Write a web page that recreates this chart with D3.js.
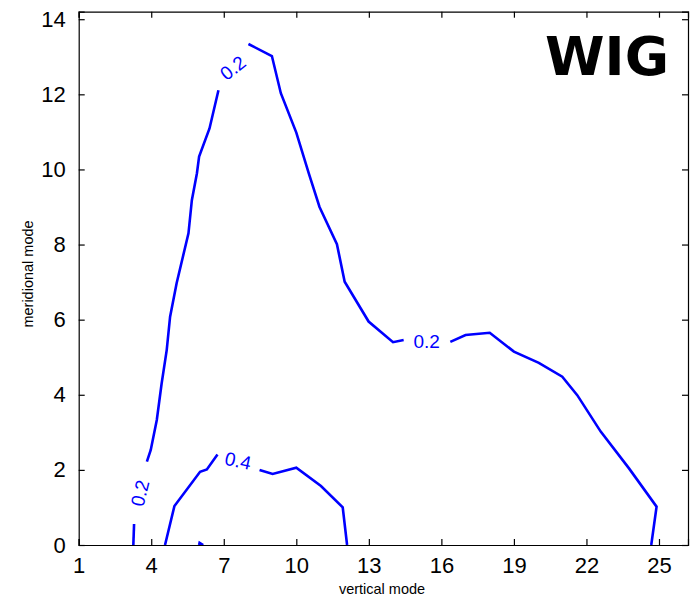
<!DOCTYPE html>
<html><head><meta charset="utf-8">
<script src="https://cdn.jsdelivr.net/npm/d3@7"></script>
<style>body{margin:0;background:#fff}svg{display:block}</style>
</head><body>
<script>
const xTicks = [1,4,7,10,13,16,19,22,25];
const yTicks = [0,2,4,6,8,10,12,14];
const xDomain = [1, 26.2];
const yDomain = [0, 14.2];

// contour level 0.2 (segments split at the labels)
const c02_a = [[3.26,0],[3.29,0.56]];
const c02_b = [[3.82,2.22],[3.98,2.53],[4.23,3.33],[4.43,4.3],[4.64,5.19],[4.78,6.08],[5.05,6.97],[5.54,8.3],[5.68,9.18],[5.89,9.9],[5.98,10.34],[6.41,11.09],[6.78,12.11]];
const c02_c = [[8.02,13.34],[8.99,13.02],[9.36,12.03],[10.0,10.98],[10.51,9.91],[10.96,9.0],[11.68,8.01],[12.0,7.01],[12.99,5.95],[14.0,5.40],[14.44,5.46]];
const c02_d = [[16.37,5.41],[17.0,5.59],[18.0,5.65],[19.0,5.15],[20.03,4.85],[21.0,4.48],[21.62,3.99],[22.59,3.02],[23.76,2.04],[24.9,1.02],[24.68,0]];
// contour level 0.4
const c04_a = [[4.57,0],[4.96,1.04],[6.02,1.95],[6.3,2.01],[6.74,2.41]];
const c04_b = [[8.48,2.0],[9.02,1.89],[10.0,2.06],[11.02,1.57],[11.92,1.0],[12.1,0]];
const c04_c = [[5.98,0],[6.0,0.06],[6.15,0]];

const contourLabels = [
  {text:"0.2", x:7.38, y:12.70, angle:-38},
  {text:"0.2", x:3.54, y:1.38, angle:-76},
  {text:"0.4", x:7.59, y:2.24, angle:12},
  {text:"0.2", x:15.39, y:5.41, angle:0}
];

const W = 694, H = 599;
const m = {left:78.7, right:W-688, top:11.7, bottom:H-545};
const svg = d3.select("body").append("svg").attr("width",W).attr("height",H);
const x = d3.scaleLinear().domain(xDomain).range([m.left, W-m.right]);
const y = d3.scaleLinear().domain(yDomain).range([H-m.bottom, m.top]);

svg.append("defs").append("clipPath").attr("id","clip")
  .append("rect").attr("x",x(xDomain[0])).attr("y",y(yDomain[1]))
  .attr("width",x(xDomain[1])-x(xDomain[0])).attr("height",y(yDomain[0])-y(yDomain[1]));

const line = d3.line().x(d=>x(d[0])).y(d=>y(d[1]));
const g = svg.append("g").attr("clip-path","url(#clip)");
[c02_a,c02_b,c02_c,c02_d,c04_a,c04_b,c04_c].forEach(s=>{
  g.append("path").datum(s).attr("d",line).attr("fill","none")
   .attr("stroke","#0000ff").attr("stroke-width",2.6).attr("stroke-linejoin","miter");
});

contourLabels.forEach(l=>{
  svg.append("text").attr("transform",`translate(${x(l.x)},${y(l.y)}) rotate(${l.angle})`)
    .attr("text-anchor","middle").attr("dominant-baseline","central")
    .attr("font-family","Liberation Sans, Arial, sans-serif").attr("font-size",19)
    .attr("fill","#0000ff").text(l.text);
});

const fontAx = "Liberation Sans, Arial, sans-serif";
const tl = 6;
const bottomAxis = d3.axisBottom(x).tickValues(xTicks).tickSize(-tl).tickPadding(tl+6).tickFormat(d3.format("d"));
const leftAxis = d3.axisLeft(y).tickValues(yTicks).tickSize(-tl).tickPadding(tl+7).tickFormat(d3.format("d"));
const topAxis = d3.axisTop(x).tickValues(xTicks).tickSize(-tl).tickFormat("");
const rightAxis = d3.axisRight(y).tickValues(yTicks).tickSize(-tl).tickFormat("");

function style(sel){
  sel.selectAll(".domain").attr("stroke","#000").attr("stroke-width",1.2);
  sel.selectAll(".tick line").attr("stroke","#000").attr("stroke-width",1.2);
  sel.selectAll(".tick text").attr("font-family",fontAx).attr("font-size",22).attr("fill","#000");
}
svg.append("g").attr("transform",`translate(0,${y(0)})`).call(bottomAxis).call(style);
svg.append("g").attr("transform",`translate(${x(xDomain[0])},0)`).call(leftAxis).call(style);
svg.append("g").attr("transform",`translate(0,${y(yDomain[1])})`).call(topAxis).call(style);
svg.append("g").attr("transform",`translate(${x(xDomain[1])},0)`).call(rightAxis).call(style);
svg.selectAll(".domain").attr("d", function(){ return d3.select(this).attr("d").replace(/M[^H V]*?V?/, m=>m); });

svg.append("text").attr("x",382).attr("y",594).attr("text-anchor","middle")
  .attr("font-family",fontAx).attr("font-size",14.5).text("vertical mode");
svg.append("text").attr("transform","translate(33,274) rotate(-90)").attr("text-anchor","middle")
  .attr("font-family",fontAx).attr("font-size",14.5).text("meridional mode");
svg.append("text").attr("x",669).attr("y",75).attr("text-anchor","end")
  .attr("font-family","DejaVu Sans, Verdana, sans-serif").attr("font-weight","bold")
  .attr("font-size",54).text("WIG");
</script>
</body></html>
